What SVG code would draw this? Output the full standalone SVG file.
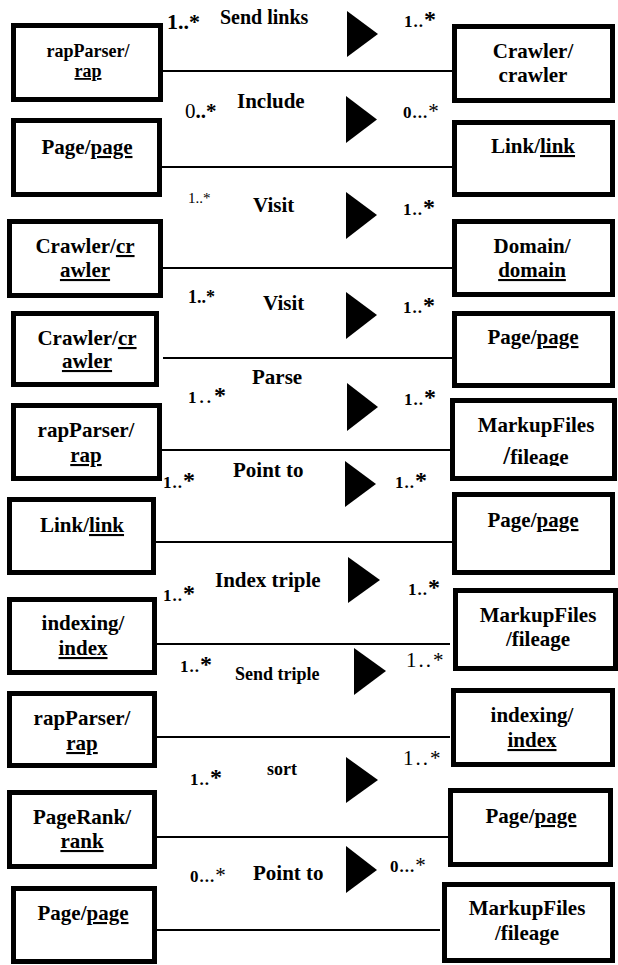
<svg xmlns="http://www.w3.org/2000/svg" width="618" height="965" viewBox="0 0 618 965">
  <style>
    text { font-family: "Liberation Serif", "Times New Roman", serif; fill: #000; }
    .box { fill: #fff; stroke: #000; stroke-width: 5; }
    .conn { stroke: #000; stroke-width: 2; fill: none; }
    .tri { fill: #000; }
    .nt { font-size: 21px; font-weight: bold; text-anchor: middle; }
    .nts { font-size: 18px; font-weight: bold; text-anchor: middle; }
    .u { text-decoration: underline; }
    .lbl { font-size: 21px; font-weight: bold; }
    .lbls { font-size: 18px; font-weight: bold; }
    .m1 { font-size: 17px; font-weight: bold; letter-spacing: 1px; }
    .ms { font-size: 24px; font-weight: bold; }
    .mr { font-size: 21px; font-weight: normal; }
    .mb { font-size: 21px; font-weight: bold; }
  </style>
  <defs>
    <clipPath id="cutFileage">
      <rect x="440" y="440" width="178" height="26"/>
    </clipPath>
  </defs>

  <!-- associations: lines, direction triangles, names and multiplicities -->
  <g id="connectors">
    <line class="conn" x1="163" y1="71" x2="453" y2="71"/>
    <line class="conn" x1="152" y1="167" x2="453" y2="167"/>
    <line class="conn" x1="163" y1="268" x2="452" y2="268"/>
    <line class="conn" x1="163" y1="358" x2="452" y2="358"/>
    <line class="conn" x1="157" y1="450" x2="450" y2="450"/>
    <line class="conn" x1="152" y1="542" x2="452" y2="542"/>
    <line class="conn" x1="152" y1="644" x2="450" y2="644"/>
    <line class="conn" x1="152" y1="737" x2="450" y2="737"/>
    <line class="conn" x1="152" y1="837" x2="450" y2="837"/>
    <line class="conn" x1="152" y1="930" x2="440" y2="930"/>

    <polygon class="tri" points="347,11 378,34 347,57"/>
    <polygon class="tri" points="346,96 377,119.5 346,143"/>
    <polygon class="tri" points="346,192 377,215 346,239"/>
    <polygon class="tri" points="346,292 377,315 346,339"/>
    <polygon class="tri" points="347,383 378,407 347,431"/>
    <polygon class="tri" points="345,461 376,484 345,507"/>
    <polygon class="tri" points="348,557 380,580 348,603"/>
    <polygon class="tri" points="354,648 386,671 354,695"/>
    <polygon class="tri" points="346,757 378,780 346,803"/>
    <polygon class="tri" points="346,846 377,870 346,893"/>

    <text class="lbl" x="220" y="24" style="font-size:20px">Send links</text>
    <text class="lbl" x="237" y="108">Include</text>
    <text class="lbl" x="253" y="212">Visit</text>
    <text class="lbl" x="263" y="310">Visit</text>
    <text class="lbl" x="252" y="384">Parse</text>
    <text class="lbl" x="233" y="477">Point to</text>
    <text class="lbl" x="215" y="587">Index triple</text>
    <text class="lbls" x="235" y="680">Send triple</text>
    <text class="lbls" x="267" y="775">sort</text>
    <text class="lbl" x="253" y="880">Point to</text>

    <!-- multiplicities -->
    <text x="167" y="29" class="mb" style="font-size:22px">1..*</text>
    <text x="404" y="27"><tspan class="m1">1..</tspan><tspan class="ms">*</tspan></text>

    <text x="185" y="118"><tspan class="mr">0</tspan><tspan class="mb">..*</tspan></text>
    <text x="403" y="118"><tspan class="m1">0...</tspan><tspan class="mr">*</tspan></text>

    <text x="188" y="203" class="mr" style="font-size:15px">1..*</text>
    <text x="403" y="215"><tspan class="m1">1..</tspan><tspan class="ms">*</tspan></text>

    <text x="188" y="303" class="mb" style="font-size:18px">1..*</text>
    <text x="403" y="313"><tspan class="m1">1..</tspan><tspan class="ms">*</tspan></text>

    <text x="188" y="403"><tspan class="m1" style="letter-spacing:3px">1..</tspan><tspan class="ms">*</tspan></text>
    <text x="404" y="405"><tspan class="m1">1..</tspan><tspan class="ms">*</tspan></text>

    <text x="163" y="488"><tspan class="m1">1..</tspan><tspan class="ms">*</tspan></text>
    <text x="395" y="488"><tspan class="m1">1..</tspan><tspan class="ms">*</tspan></text>

    <text x="163" y="601"><tspan class="m1">1..</tspan><tspan class="ms">*</tspan></text>
    <text x="408" y="595"><tspan class="m1">1..</tspan><tspan class="ms">*</tspan></text>

    <text x="180" y="672"><tspan class="m1">1..</tspan><tspan class="ms">*</tspan></text>
    <text x="406" y="667" class="mr" style="letter-spacing:2px">1..*</text>

    <text x="190" y="785"><tspan class="m1">1..</tspan><tspan class="ms">*</tspan></text>
    <text x="403" y="765" class="mr" style="letter-spacing:2px">1..*</text>

    <text x="190" y="882"><tspan class="m1">0...</tspan><tspan class="mr">*</tspan></text>
    <text x="390" y="872"><tspan class="m1">0...</tspan><tspan class="mr">*</tspan></text>
  </g>

  <!-- row 1 -->
  <g id="rapParser-1">
    <rect class="box" x="13.5" y="25.5" width="147" height="74"/>
    <text class="nts" x="88" y="57">rapParser/</text>
    <text class="nts" x="88" y="77"><tspan class="u">rap</tspan></text>
  </g>
  <g id="crawler-1">
    <rect class="box" x="454.5" y="26.5" width="158" height="74"/>
    <text class="nt" x="533" y="58">Crawler/</text>
    <text class="nt" x="533" y="82">crawler</text>
  </g>

  <!-- row 2 -->
  <g id="page-1">
    <rect class="box" x="13.5" y="120.5" width="146" height="74"/>
    <text class="nt" x="87" y="154">Page/<tspan class="u">page</tspan></text>
  </g>
  <g id="link-1">
    <rect class="box" x="454.5" y="122.5" width="158" height="72"/>
    <text class="nt" x="533" y="153">Link/<tspan class="u">link</tspan></text>
  </g>

  <!-- row 3 -->
  <g id="crawler-2">
    <rect class="box" x="9.5" y="221.5" width="151" height="74"/>
    <text class="nt" x="85" y="253">Crawler/<tspan class="u">cr</tspan></text>
    <text class="nt" x="85" y="277"><tspan class="u">awler</tspan></text>
  </g>
  <g id="domain">
    <rect class="box" x="454.5" y="221.5" width="158" height="73"/>
    <text class="nt" x="532" y="253">Domain/</text>
    <text class="nt" x="532" y="277"><tspan class="u">domain</tspan></text>
  </g>

  <!-- row 4 -->
  <g id="crawler-3">
    <rect class="box" x="13.5" y="313.5" width="143" height="71"/>
    <text class="nt" x="87" y="345">Crawler/<tspan class="u">cr</tspan></text>
    <text class="nt" x="87" y="368"><tspan class="u">awler</tspan></text>
  </g>
  <g id="page-2">
    <rect class="box" x="454.5" y="313.5" width="158" height="72"/>
    <text class="nt" x="533" y="344">Page/<tspan class="u">page</tspan></text>
  </g>

  <!-- row 5 -->
  <g id="rapParser-2">
    <rect class="box" x="13.5" y="405.5" width="146" height="73"/>
    <text class="nt" x="86" y="437">rapParser/</text>
    <text class="nt" x="86" y="462"><tspan class="u">rap</tspan></text>
  </g>
  <g id="markupFiles-1">
    <rect class="box" x="452.5" y="400.5" width="162" height="78"/>
    <text class="nt" x="536" y="432">MarkupFiles</text>
    <text class="nt" x="536" y="464" clip-path="url(#cutFileage)"><tspan style="font-size:25px">/</tspan>fileage</text>
  </g>

  <!-- row 6 -->
  <g id="link-2">
    <rect class="box" x="9.5" y="499.5" width="144" height="73"/>
    <text class="nt" x="82" y="532">Link/<tspan class="u">link</tspan></text>
  </g>
  <g id="page-3">
    <rect class="box" x="454.5" y="494.5" width="158" height="78"/>
    <text class="nt" x="533" y="527">Page/<tspan class="u">page</tspan></text>
  </g>

  <!-- row 7 -->
  <g id="indexing-1">
    <rect class="box" x="9.5" y="599.5" width="145" height="73"/>
    <text class="nt" x="83" y="630">indexing/</text>
    <text class="nt" x="83" y="655"><tspan class="u">index</tspan></text>
  </g>
  <g id="markupFiles-2">
    <rect class="box" x="455.5" y="590.5" width="160" height="78"/>
    <text class="nt" x="538" y="622">MarkupFiles</text>
    <text class="nt" x="538" y="646">/fileage</text>
  </g>

  <!-- row 8 -->
  <g id="rapParser-3">
    <rect class="box" x="9.5" y="693.5" width="145" height="72"/>
    <text class="nt" x="82" y="725">rapParser/</text>
    <text class="nt" x="82" y="750"><tspan class="u">rap</tspan></text>
  </g>
  <g id="indexing-2">
    <rect class="box" x="453.5" y="690.5" width="159" height="74"/>
    <text class="nt" x="532" y="722">indexing/</text>
    <text class="nt" x="532" y="747"><tspan class="u">index</tspan></text>
  </g>

  <!-- row 9 -->
  <g id="pageRank">
    <rect class="box" x="9.5" y="792.5" width="145" height="74"/>
    <text class="nt" x="82" y="824">PageRank/</text>
    <text class="nt" x="82" y="848"><tspan class="u">rank</tspan></text>
  </g>
  <g id="page-4">
    <rect class="box" x="450.5" y="790.5" width="160" height="74"/>
    <text class="nt" x="531" y="823">Page/<tspan class="u">page</tspan></text>
  </g>

  <!-- row 10 -->
  <g id="page-5">
    <rect class="box" x="13.5" y="888.5" width="141" height="73"/>
    <text class="nt" x="83" y="920">Page/<tspan class="u">page</tspan></text>
  </g>
  <g id="markupFiles-3">
    <rect class="box" x="444.5" y="884.5" width="168" height="76"/>
    <text class="nt" x="527" y="915">MarkupFiles</text>
    <text class="nt" x="527" y="940">/fileage</text>
  </g>
</svg>
